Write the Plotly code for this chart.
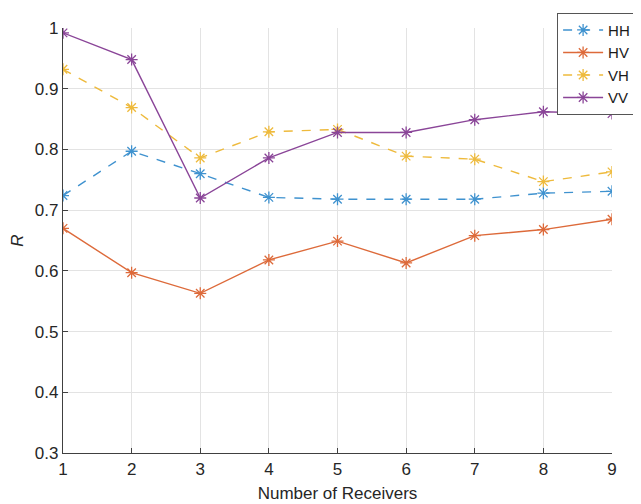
import plotly.graph_objects as go

receivers = [1, 2, 3, 4, 5, 6, 7, 8, 9]
hh = [0.724, 0.797, 0.760, 0.721, 0.718, 0.718, 0.718, 0.728, 0.731]
hv = [0.670, 0.597, 0.563, 0.618, 0.649, 0.613, 0.658, 0.668, 0.685]
vh = [0.932, 0.869, 0.786, 0.829, 0.833, 0.789, 0.784, 0.747, 0.763]
vv = [0.992, 0.948, 0.720, 0.786, 0.828, 0.828, 0.849, 0.862, 0.859]

series = [
    ("HH", hh, "#3f92cf", "dash"),
    ("HV", hv, "#dd6a3a", "solid"),
    ("VH", vh, "#eeba3c", "dash"),
    ("VV", vv, "#8a4598", "solid"),
]

fig = go.Figure()
for name, vals, color, dash in series:
    fig.add_trace(go.Scatter(
        x=receivers, y=vals, name=name, mode="lines+markers",
        line=dict(color=color, width=1.4, dash=dash),
        marker=dict(symbol="asterisk-open", size=10, color=color,
                    line=dict(color=color, width=1.3)),
    ))

axis_common = dict(
    showgrid=True, gridcolor="#e3e3e3", gridwidth=1,
    showline=True, linecolor="#404040", linewidth=1.3,
    ticks="inside", ticklen=5, tickcolor="#404040",
    tickfont=dict(family="Liberation Sans, Arial", size=17, color="#262626"),
    zeroline=False, mirror=False, automargin=False,
)

fig.update_layout(
    width=633, height=496,
    margin=dict(l=55, r=29, t=20, b=51, autoexpand=False),
    paper_bgcolor="white", plot_bgcolor="white",
    font=dict(family="Liberation Sans, Arial", color="#262626"),
    xaxis=dict(range=[1, 9], dtick=1, tick0=1,
               title=dict(text="Number of Receivers", standoff=9,
                          font=dict(size=17, color="#262626")),
               **axis_common),
    yaxis=dict(range=[0.3, 1.0], dtick=0.1, tick0=0.3, tickformat="~g",
               title=dict(text="<i>R</i>", standoff=12,
                          font=dict(size=17, color="#262626")),
               **axis_common),
    legend=dict(x=0.9, xanchor="left", y=1.036, yanchor="top",
                bgcolor="white", bordercolor="#555555", borderwidth=1,
                font=dict(size=15, color="#1a1a1a"),
                tracegroupgap=0, itemwidth=40),
)

fig.write_html("out.html")
